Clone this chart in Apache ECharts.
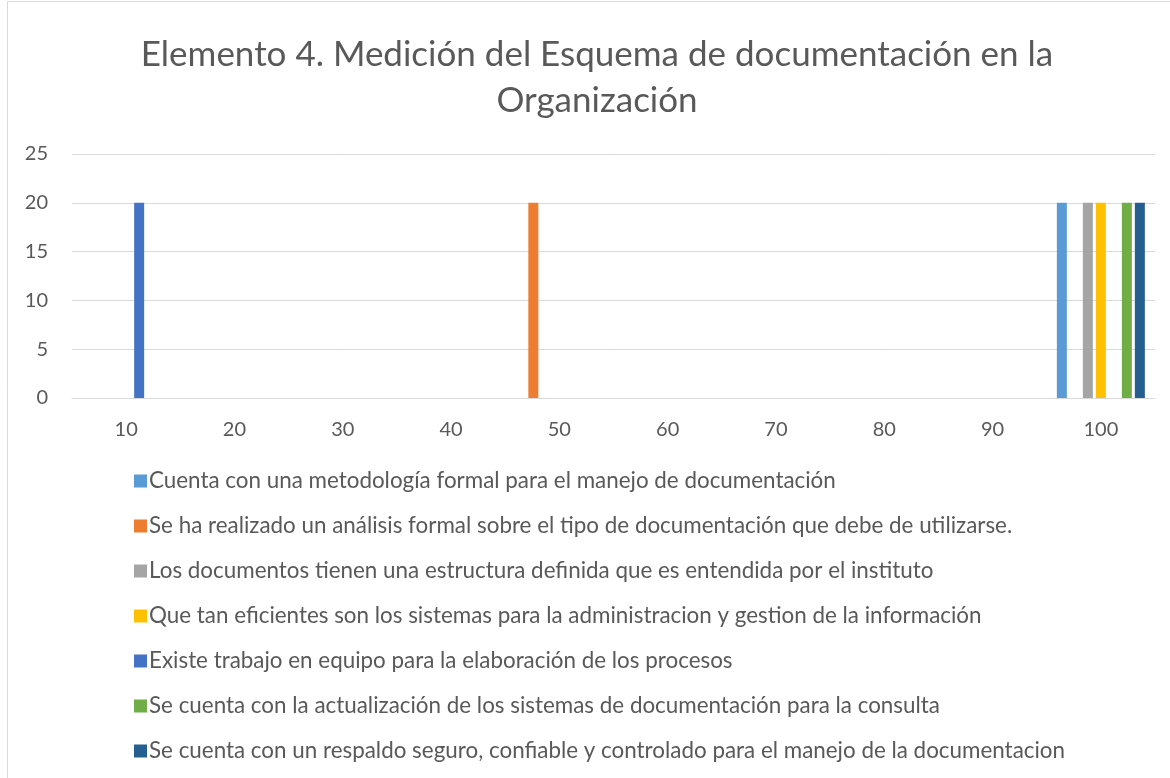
<!DOCTYPE html>
<html><head><meta charset="utf-8">
<script src="https://cdn.jsdelivr.net/npm/echarts@6/dist/echarts.min.js"></script>
<style>html,body{margin:0;padding:0;background:#fff}#c{width:1170px;height:778px}</style>
</head><body><div id="c"></div>
<script>
const categories = ['10','20','30','40','50','60','70','80','90','100'];
const seriesNames = [
  'Cuenta con una metodología formal para el manejo de documentación',
  'Se ha realizado un análisis formal sobre el tipo de documentación que debe de utilizarse.',
  'Los documentos tienen una estructura definida que es entendida por el instituto',
  'Que tan eficientes son los sistemas para la administracion y gestion de la información',
  'Existe trabajo en equipo para la elaboración de los procesos',
  'Se cuenta con la actualización de los sistemas de documentación para la consulta',
  'Se cuenta con un respaldo seguro, confiable y controlado para el manejo de la documentacion'
];
const s1 = [0,0,0,0,0,0,0,0,0,20];
const s2 = [0,0,0,0,20,0,0,0,0,0];
const s3 = [0,0,0,0,0,0,0,0,0,20];
const s4 = [0,0,0,0,0,0,0,0,0,20];
const s5 = [20,0,0,0,0,0,0,0,0,0];
const s6 = [0,0,0,0,0,0,0,0,0,20];
const s7 = [0,0,0,0,0,0,0,0,0,20];
const seriesData = [s1,s2,s3,s4,s5,s6,s7];
const colors = ['#5B9BD5','#ED7D31','#A5A5A5','#FFC000','#4472C4','#70AD47','#255E91'];
const yTicks = [0,5,10,15,20,25];
const titleText = 'Elemento 4. Medición del Esquema de documentación en la\nOrganización';

const FONT = 'Lato';
const chart = echarts.init(document.getElementById('c'));
chart.setOption({
  animation: false,
  color: colors,
  graphic: [{type:'rect', shape:{x:7.5,y:1.5,width:1200,height:900}, style:{fill:'none',stroke:'#d9d9d9',lineWidth:1}, silent:true}],
  title: {text: titleText, left: 592, textAlign: 'center', top: 27, textStyle:{fontFamily:FONT, fontSize:35, fontWeight:'normal', color:'#595959', lineHeight:46}},
  legend: {orient:'vertical', left:129, top:465, itemWidth:13, itemHeight:13, itemGap:23, icon:'rect',
    textStyle:{fontFamily:FONT, fontSize:22.4, lineHeight:22, color:'#595959', padding:[0,0,0,-3]},
    data: seriesNames},
  grid: {left:72, right:15, top:154, bottom:380, containLabel:false},
  xAxis: {type:'category', data:categories,
    axisLine:{lineStyle:{color:'#d9d9d9'}}, axisTick:{show:false},
    axisLabel:{fontFamily:FONT, fontSize:20, color:'#595959', margin:22}},
  yAxis: {type:'value', min:yTicks[0], max:yTicks[yTicks.length-1], interval:5,
    axisLine:{show:false}, axisTick:{show:false},
    splitLine:{lineStyle:{color:'#d9d9d9'}},
    axisLabel:{fontFamily:FONT, fontSize:20, color:'#595959', margin:24}},
  series: seriesNames.map((n,i)=>({name:n, type:'bar', data:seriesData[i], barWidth:10, barGap:'30%', itemStyle:{color:colors[i]}}))
});
</script></body></html>
